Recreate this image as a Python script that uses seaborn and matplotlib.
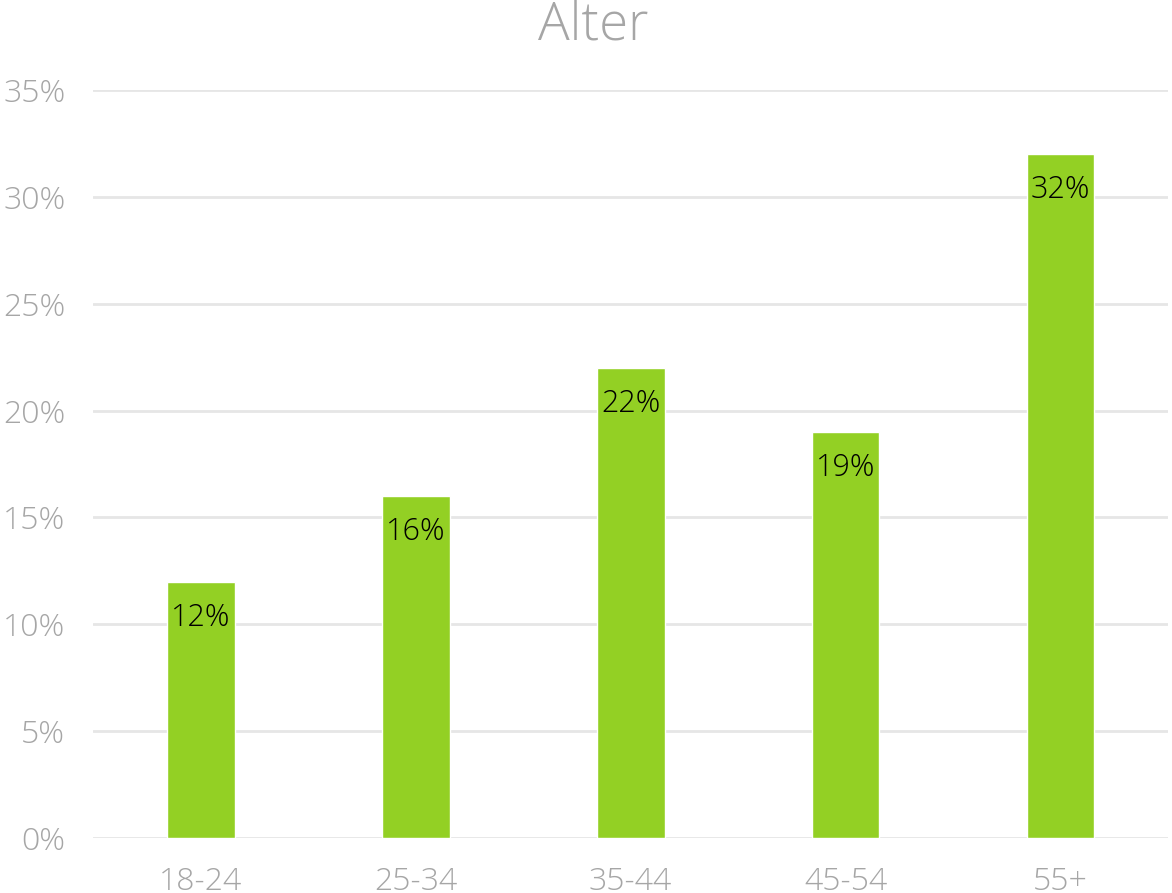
import matplotlib
matplotlib.use("Agg")
import matplotlib.pyplot as plt
import seaborn as sns
import pandas as pd

categories = ["18-24", "25-34", "35-44", "45-54", "55+"]
values = [12, 16, 22, 19, 32]
yticks = [0, 5, 10, 15, 20, 25, 30, 35]
title = "Alter"

sns.set_theme(style="white")
plt.rcParams['font.family'] = ['Open Sans', 'DejaVu Sans']

df = pd.DataFrame({"Alter": categories, "Wert": values})

fig = plt.figure(figsize=(11.72, 8.93), dpi=100)
ax = fig.add_axes([0.0794, 0.0616, 0.9172, 0.8375])

sns.barplot(data=df, x="Alter", y="Wert", color="#93D024", width=0.316,
            saturation=1, ax=ax, zorder=3)

ax.set_ylim(0, 35)
ax.set_xlim(-0.5, 4.5)
ax.set_yticks(yticks)
ax.set_yticklabels([f"{t}%" for t in yticks])
ax.yaxis.grid(True, color="#E6E6E6", linewidth=2, zorder=0)
ax.set_axisbelow(True)
for s in ax.spines.values():
    s.set_visible(False)
ax.set_xlabel("")
ax.set_ylabel("")
ax.tick_params(axis="y", length=0, pad=20, labelsize=23, labelcolor="#A6A6A6")
ax.tick_params(axis="x", length=0, pad=20, labelsize=23, labelcolor="#A6A6A6")
for lab in ax.get_yticklabels() + ax.get_xticklabels():
    lab.set_fontweight("light")

for i, v in enumerate(values):
    ax.annotate(f"{v}%", (i, v), xytext=(0, -36), textcoords="offset pixels",
                ha="center", va="center", fontsize=22, color="black",
                fontweight="light", zorder=5)

fig.text(0.506, 1 - 27/893, title, ha="center", va="center", fontsize=38,
         color="#A6A6A6", fontweight="light")

fig.savefig("out.png", dpi=100)
